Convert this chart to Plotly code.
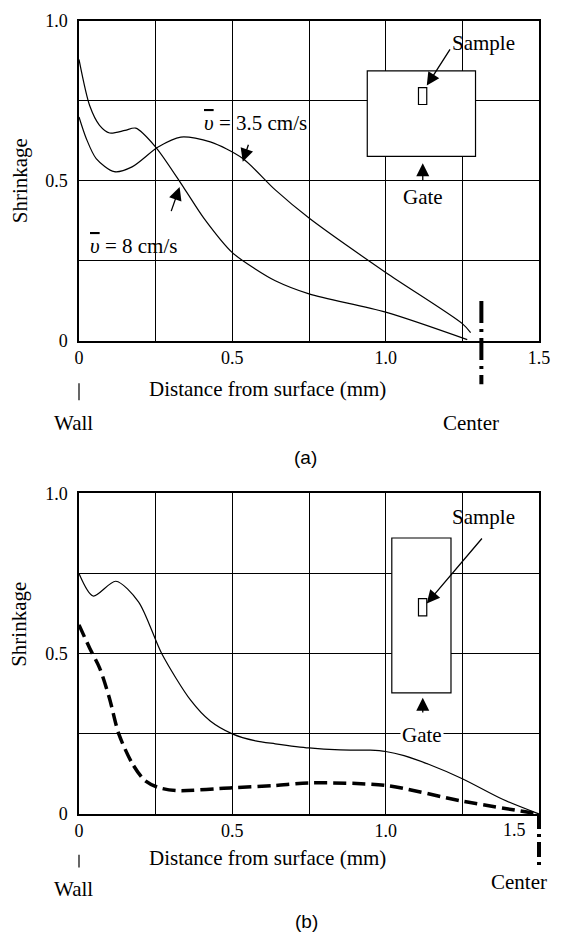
import plotly.graph_objects as go

# ---------------- data ----------------
# Panel (a)
a_fast_x = [0, 0.035, 0.067, 0.10, 0.15, 0.185, 0.25, 0.343, 0.407, 0.5, 0.576, 0.64, 0.75, 1.0, 1.266]
a_fast_y = [0.88, 0.735, 0.674, 0.65, 0.658, 0.665, 0.606, 0.477, 0.384, 0.276, 0.224, 0.188, 0.147, 0.09, 0.004]

a_slow_x = [0, 0.024, 0.056, 0.115, 0.173, 0.258, 0.332, 0.428, 0.534, 0.64, 0.75, 1.0, 1.25, 1.277]
a_slow_y = [0.70, 0.632, 0.570, 0.529, 0.544, 0.606, 0.637, 0.622, 0.570, 0.472, 0.384, 0.214, 0.054, 0.026]

# Panel (b)
b_solid_x = [0, 0.046, 0.12, 0.194, 0.27, 0.364, 0.428, 0.5, 0.576, 0.64, 0.75, 0.852, 0.95, 1.0, 1.06, 1.14, 1.25, 1.383, 1.5]
b_solid_y = [0.75, 0.68, 0.726, 0.662, 0.5, 0.355, 0.29, 0.25, 0.228, 0.219, 0.206, 0.2, 0.199, 0.195, 0.182, 0.155, 0.11, 0.045, 0.0]

b_dash_x = [0, 0.035, 0.067, 0.099, 0.13, 0.174, 0.215, 0.258, 0.32, 0.5, 0.64, 0.75, 1.0, 1.25, 1.5]
b_dash_y = [0.59, 0.517, 0.456, 0.362, 0.249, 0.157, 0.104, 0.083, 0.073, 0.082, 0.089, 0.097, 0.089, 0.040, 0.0]

x_tickvals = [0, 0.25, 0.5, 0.75, 1.0, 1.25, 1.5]
x_ticktext_a = ["0", "", "0.5", "", "1.0", "", "1.5"]
x_ticktext_b = ["0", "", "0.5", "", "1.0", "", ""]
y_tickvals = [0, 0.25, 0.5, 0.75, 1.0]
y_ticktext = ["0", "", "0.5", "", "1.0"]

# ---------------- layout geometry ----------------
W, H = 561, 935
ML, MR, MT, MB = 79, 11, 15, 121
PW, PH = W - ML - MR, H - MT - MB


def px(xp):
    return (xp - ML) / PW


def py(yp):
    return (H - MB - yp) / PH


SERIF = "Liberation Serif"
SANS = "Liberation Sans"

fig = go.Figure()
thin = dict(color="black", width=1.2, shape="spline", smoothing=0.8)
fig.add_trace(go.Scatter(x=a_fast_x, y=a_fast_y, mode="lines", line=thin, xaxis="x", yaxis="y"))
fig.add_trace(go.Scatter(x=a_slow_x, y=a_slow_y, mode="lines", line=thin, xaxis="x", yaxis="y"))
fig.add_trace(go.Scatter(x=b_solid_x, y=b_solid_y, mode="lines", line=thin, xaxis="x2", yaxis="y2"))
fig.add_trace(go.Scatter(x=b_dash_x, y=b_dash_y, mode="lines",
                         line=dict(color="black", width=3.5, dash="13px,6px", shape="spline", smoothing=0.8),
                         xaxis="x2", yaxis="y2"))

axis_common = dict(showline=True, mirror=True, linecolor="black", linewidth=1.5,
                   showgrid=True, gridcolor="black", gridwidth=1.2, zeroline=False,
                   ticks="", tickfont=dict(family=SERIF, size=18, color="black"))

top_bottom = py(337.3)
bot_top = py(491)

fig.update_layout(
    width=W, height=H,
    margin=dict(l=ML, r=MR, t=MT, b=MB),
    paper_bgcolor="white", plot_bgcolor="white",
    showlegend=False,
    font=dict(family=SERIF, color="black"),
    xaxis=dict(domain=[0, 1], anchor="y", range=[0, 1.5], tickvals=x_tickvals, ticktext=x_ticktext_a, **axis_common),
    yaxis=dict(domain=[top_bottom, 1], anchor="x", range=[0, 1], tickvals=y_tickvals, ticktext=y_ticktext,
               ticklabelstandoff=6, **axis_common),
    xaxis2=dict(domain=[0, 1], anchor="y2", range=[0, 1.5], tickvals=x_tickvals, ticktext=x_ticktext_b, **axis_common),
    yaxis2=dict(domain=[0, bot_top], anchor="x2", range=[0, 1], tickvals=y_tickvals, ticktext=y_ticktext,
                ticklabelstandoff=6, **axis_common),
)

shapes = []
ann = []

txt = dict(family=SERIF, size=21, color="black")


def ptext(text, xp, yp, **kw):
    d = dict(text=text, x=px(xp), y=py(yp), xref="paper", yref="paper", showarrow=False,
             font=kw.pop("font", txt), xanchor="center", yanchor="middle")
    d.update(kw)
    ann.append(d)


# axis titles and side labels
ptext("Shrinkage", 18, 176, textangle=-90)
ptext("Shrinkage", 18, 623, textangle=-90)
ptext("Distance from surface (mm)", 272, 385.5)
ptext("Distance from surface (mm)", 272, 858)
ptext("Wall", 73.5, 419.6)
ptext("Wall", 73, 890)
ptext("Center", 480, 419.6)
ptext("Center", 530, 882.7)
ptext("(a)", 311, 455, font=dict(family=SANS, size=19, color="black"))
ptext("(b)", 312, 922, font=dict(family=SANS, size=19, color="black"))
ptext("1.5", 525, 830, font=dict(family=SERIF, size=18, color="black"))

# wall ticks
for y0, y1 in [(380, 397), (855, 868)]:
    shapes.append(dict(type="line", xref="paper", yref="paper", x0=px(79), x1=px(79), y0=py(y0), y1=py(y1),
                       line=dict(color="black", width=1.2)))

# center dash-dot lines
shapes.append(dict(type="line", xref="paper", yref="paper", x0=px(491), x1=px(491), y0=py(297), y1=py(381),
                   line=dict(color="black", width=4, dash="22px,6px,3px,6px")))
shapes.append(dict(type="line", xref="paper", yref="paper", x0=px(550), x1=px(550), y0=py(814), y1=py(869),
                   line=dict(color="black", width=4, dash="15px,5px,3px,5px")))

# insets (a)
shapes.append(dict(type="rect", xref="x", yref="y", x0=0.94, x1=1.293, y0=0.577, y1=0.844,
                   fillcolor="white", line=dict(color="black", width=1.2)))
shapes.append(dict(type="rect", xref="x", yref="y", x0=1.107, x1=1.134, y0=0.739, y1=0.792,
                   fillcolor="white", line=dict(color="black", width=1.2)))
# insets (b)
shapes.append(dict(type="rect", xref="x2", yref="y2", x0=1.02, x1=1.213, y0=0.378, y1=0.861,
                   fillcolor="white", line=dict(color="black", width=1.2)))
shapes.append(dict(type="rect", xref="x2", yref="y2", x0=1.107, x1=1.134, y0=0.618, y1=0.672,
                   fillcolor="white", line=dict(color="black", width=1.2)))


def dtext(text, x, y, xr, yr, **kw):
    d = dict(text=text, x=x, y=y, xref=xr, yref=yr, showarrow=False, font=txt,
             xanchor="center", yanchor="middle")
    d.update(kw)
    ann.append(d)


def arrow(x, y, ax, ay, xr, yr):
    ann.append(dict(text="", x=x, y=y, ax=ax, ay=ay, xref=xr, yref=yr, axref=xr, ayref=yr,
                    showarrow=True, arrowhead=2, arrowsize=2.0, arrowwidth=1.3, arrowcolor="black",
                    standoff=0, startstandoff=0))


vbar = '<span style="text-decoration:overline"><i>υ</i></span>'
dtext(vbar + " = 3.5 cm/s", 0.576, 0.68, "x", "y")
dtext(vbar + " = 8 cm/s", 0.178, 0.296, "x", "y")
arrow(0.534, 0.56, 0.554, 0.618, "x", "y")
arrow(0.328, 0.481, 0.299, 0.401, "x", "y")

dtext("Sample", 1.318, 0.931, "x", "y")
arrow(1.134, 0.798, 1.213, 0.916, "x", "y")
arrow(1.121, 0.555, 1.121, 0.498, "x", "y")
dtext("Gate", 1.123, 0.451, "x", "y")

dtext("Sample", 1.319, 0.926, "x2", "y2")
arrow(1.134, 0.657, 1.318, 0.864, "x2", "y2")
arrow(1.121, 0.363, 1.121, 0.312, "x2", "y2")
dtext("Gate", 1.118, 0.246, "x2", "y2", bgcolor="white", borderpad=1)

fig.update_layout(shapes=shapes, annotations=ann)
fig.write_html("out.html")
